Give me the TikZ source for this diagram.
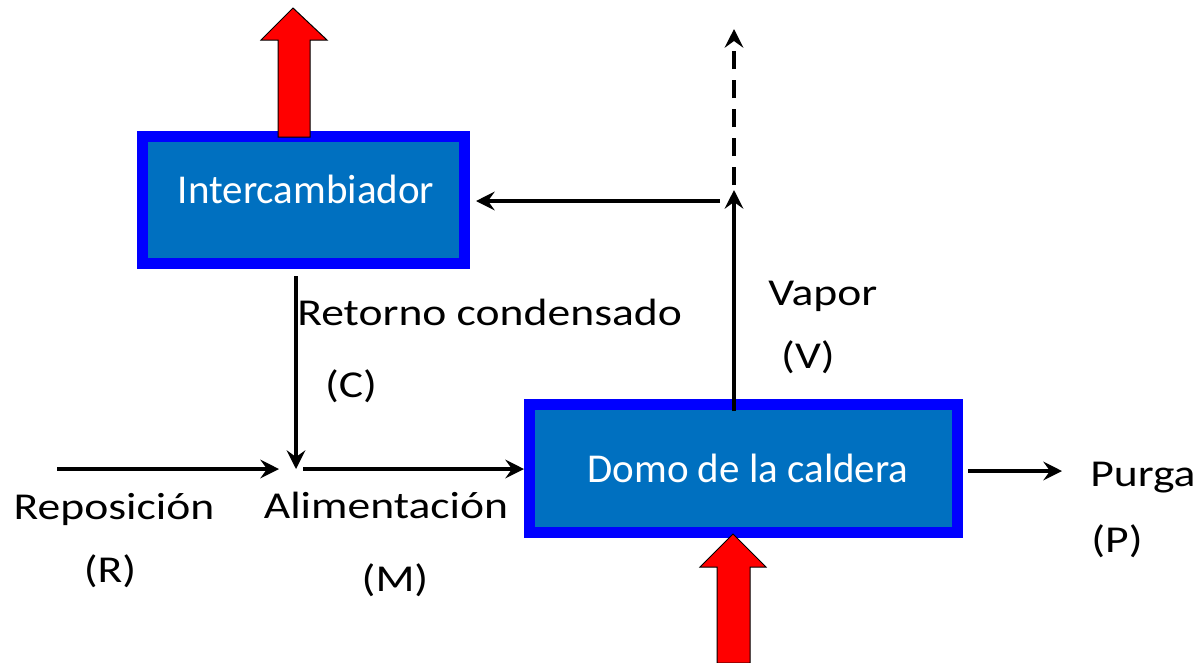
\documentclass[tikz,border=0pt]{standalone}
\usepackage{fontspec}
\setmainfont{Carlito}
\newfontfamily\widefont[FakeStretch=1.2]{Carlito}
\usetikzlibrary{arrows.meta}
\definecolor{boxfill}{HTML}{0070C0}
\definecolor{boxline}{HTML}{0000FF}
\begin{document}
\begin{tikzpicture}[x=0.75pt,y=-0.75pt,
  unitbox/.style={draw=boxline, fill=boxfill, line width=8.25pt, inner sep=0pt, rectangle},
  boxtext/.style={text=white, font=\fontsize{30.75pt}{36pt}\selectfont, inner sep=0pt, anchor=base},
  lbl/.style={font=\widefont\fontsize{28.5pt}{34pt}\selectfont, inner sep=0pt, anchor=base},
  flow/.style={line width=3pt, -{Stealth[length=14pt,width=14pt,inset=5pt]}},
  heat/.style={fill=red, draw=black, line width=0.75pt}]
\useasboundingbox (0,0) rectangle (1199,662);
% units
\node[unitbox, minimum width=241.5pt, minimum height=95.25pt] (inter) at (303.5,200) {};
\node[unitbox, minimum width=321pt, minimum height=96pt] (domo) at (743.5,468.5) {};
% heat arrows
\draw[heat] (278,137) -- (278,40) -- (261,40) -- (293,8) -- (327,40) -- (310,40) -- (310,137) -- cycle;
\draw[heat] (717,663) -- (717,567) -- (700,567) -- (733,534) -- (766,567) -- (750,567) -- (750,663) -- cycle;
% texts
\node[boxtext] (tinter) at (306,203) {Intercambiador};
\node[boxtext] (tdomo) at (748,482) {Domo de la caldera};
\node[lbl,anchor=base west] (tret) at (297,325) {Retorno condensado};
\node[lbl] (tC) at (351,397) {(C)};
\node[lbl,anchor=base west] (tvap) at (768,305) {Vapor};
\node[lbl] (tV) at (808,368) {(V)};
\node[lbl] (trep) at (114,519) {Reposición};
\node[lbl] (tR) at (110,582) {(R)};
\node[lbl] (tali) at (386,518) {Alimentación};
\node[lbl] (tM) at (395,591) {(M)};
\node[lbl,anchor=base west] (tpur) at (1090,486) {Purga};
\node[lbl] (tP) at (1117,552) {(P)};
% coordinates
\coordinate (split) at (734,190);
\coordinate (vout) at (734,29);
\coordinate (ret) at (720,201);
\coordinate (mix) at (296,469);
\coordinate (rin) at (57,469);
\coordinate (pout) at (1062,471);
% connectors
\draw[flow] ([yshift=-9pt]domo.north -| split) -- (split);
\draw[flow, dash pattern=on 13.5pt off 8.25pt] ([yshift=3.75pt]split) -- (vout);
\draw[flow, shorten >=4.5pt] (ret) -- (ret -| inter.east);
\draw[flow, shorten <=5.25pt] (inter.south -| mix) -- (mix);
\draw[flow, shorten >=12.75pt] (rin) -- (mix);
\draw[flow, shorten <=5.25pt] (mix) -- (mix -| domo.west);
\draw[flow, shorten <=3.75pt] (domo.east |- pout) -- (pout);
\end{tikzpicture}
\end{document}
